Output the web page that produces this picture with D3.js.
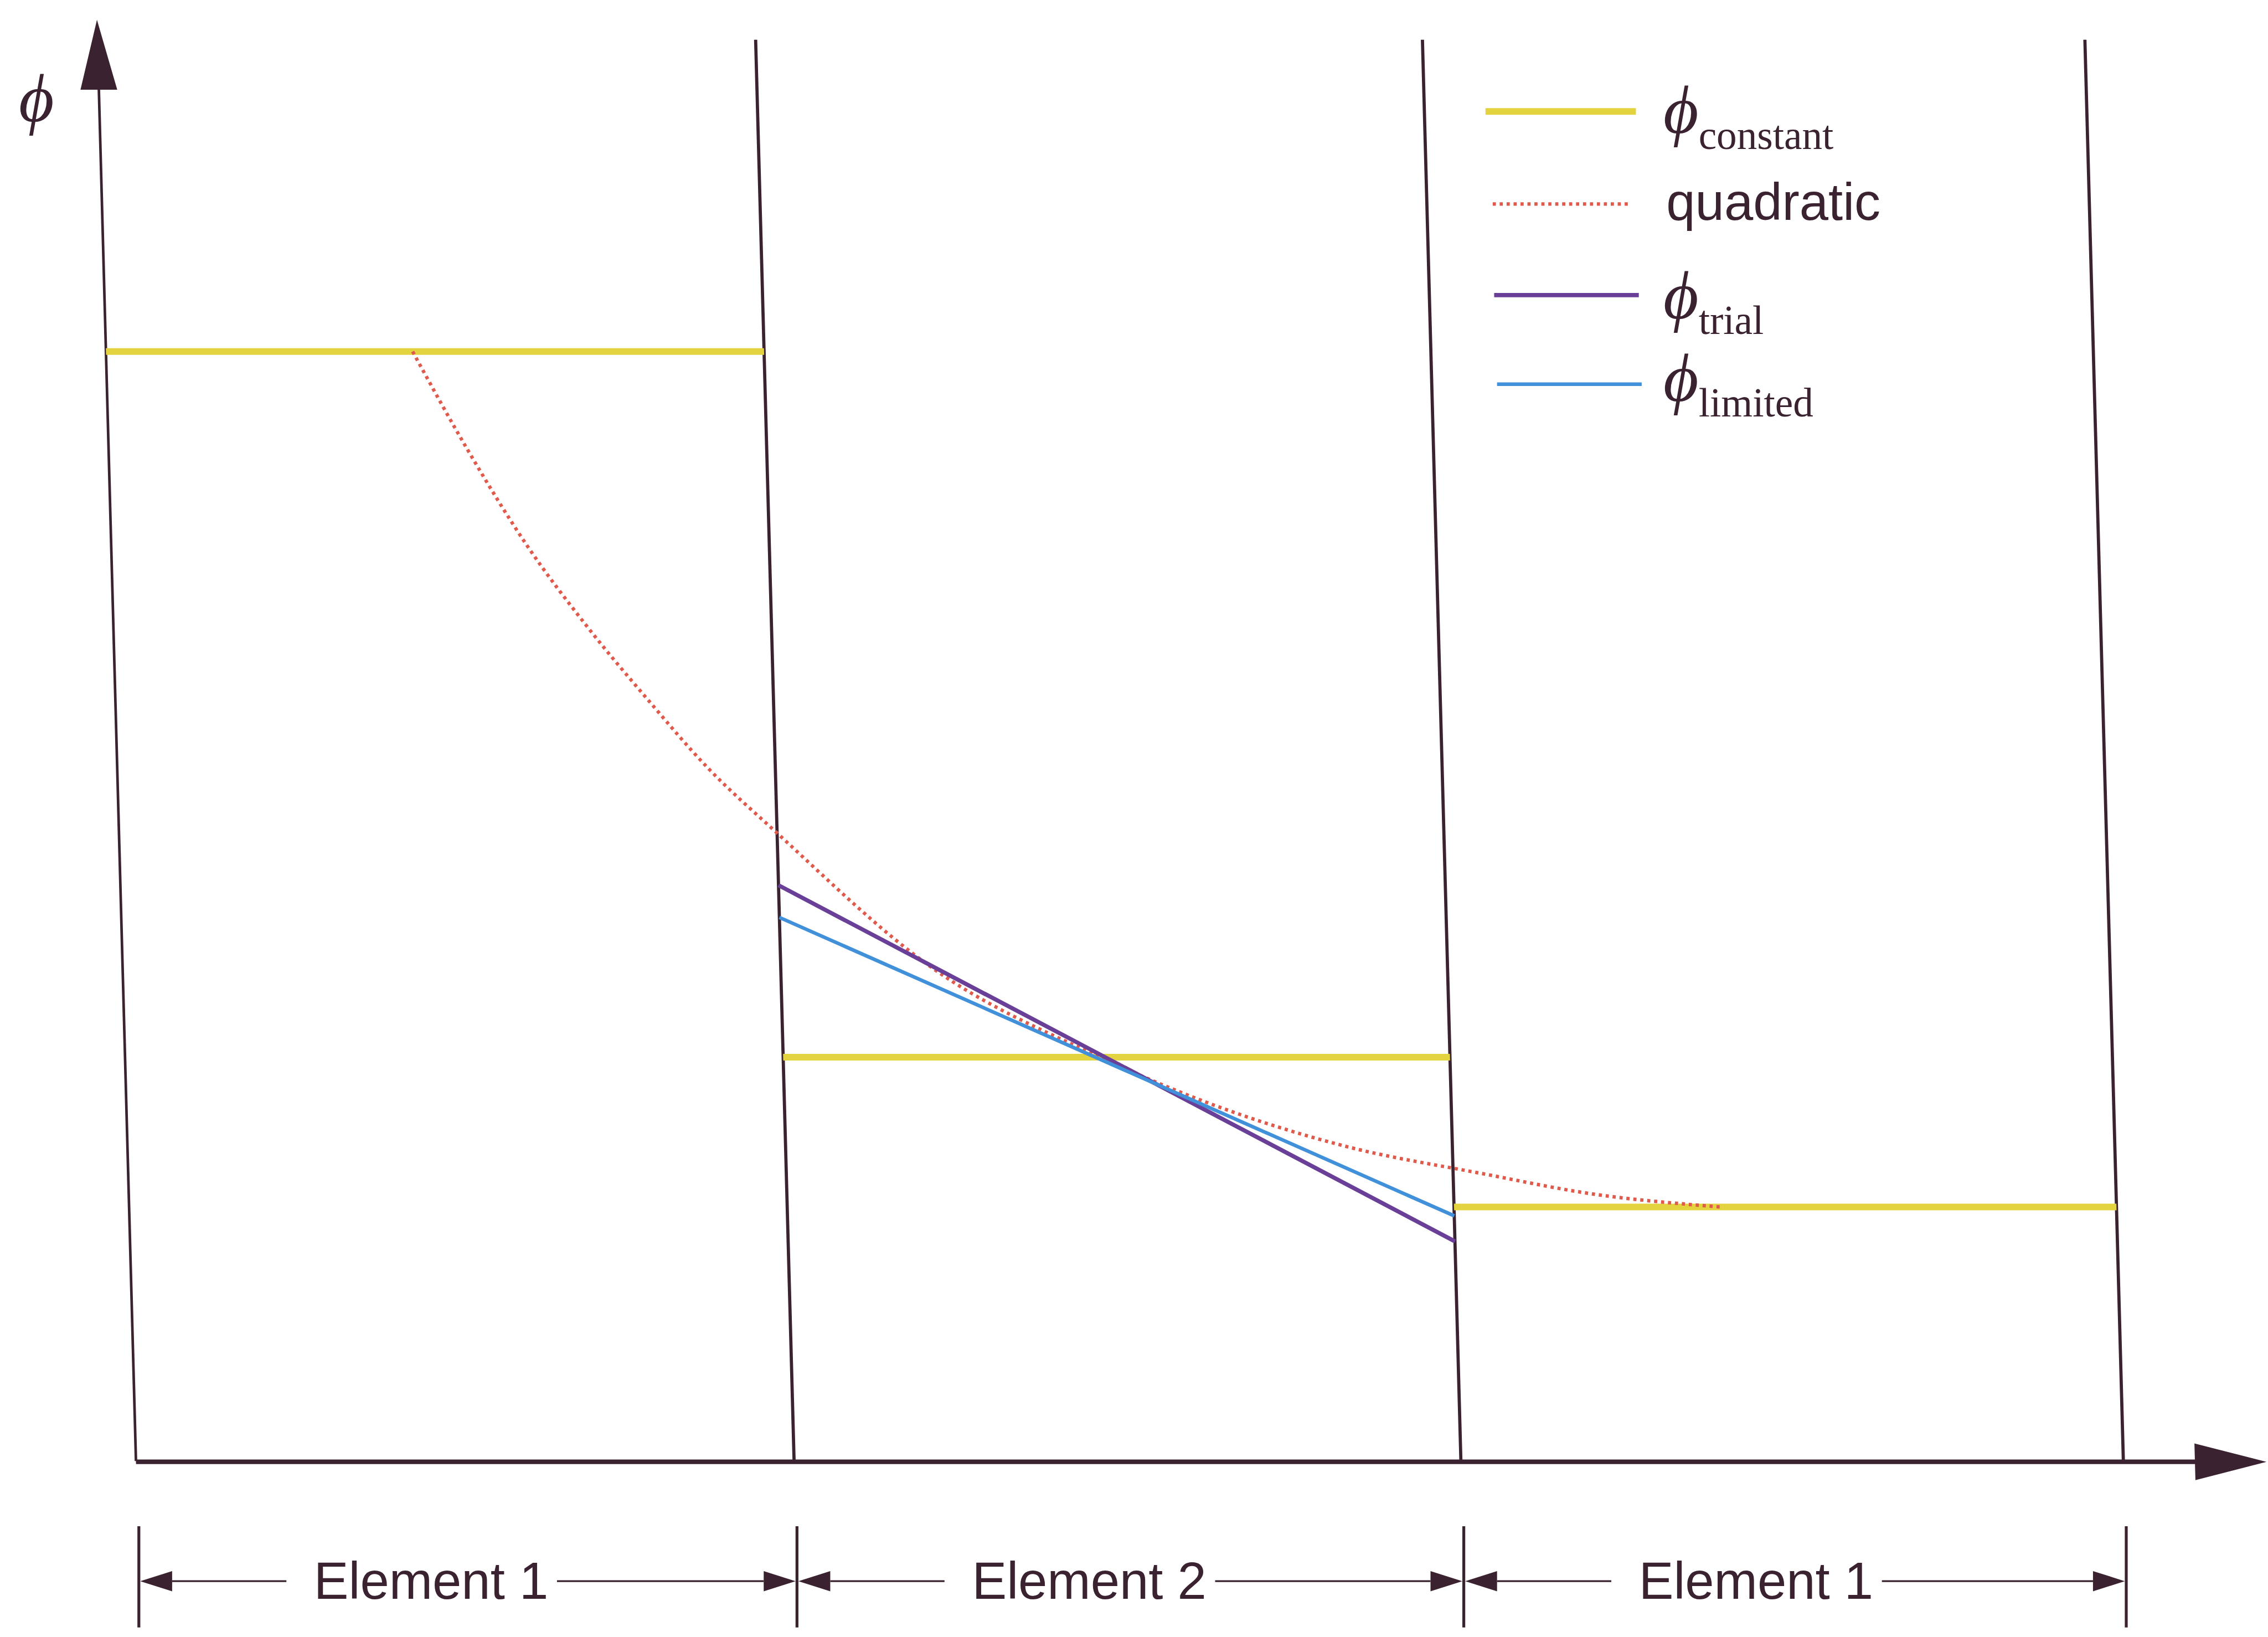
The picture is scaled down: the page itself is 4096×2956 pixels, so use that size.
<!DOCTYPE html>
<html lang="en">
<head>
	<meta charset="UTF-8">
	<title>Slope limiter sketch</title>
	<script src="https://cdn.jsdelivr.net/npm/d3@7"></script>
	<style>
		body { margin: 0; background: #fff; }
		svg { display: block; }
	</style>
</head>
<body>
<svg id="chart"></svg>
<script>

	// ---- data ----
	const elementNames = ["Element 1", "Element 2", "Element 1"];
	const boundaries = [0, 1, 2, 3];
	const constantPhi = [1.0, 0.364, 0.229];       // one value per element
	const trialX = [1, 2];
	const trialPhi = [0.519, 0.198];
	const limitedX = [1, 2];
	const limitedPhi = [0.490, 0.221];
	const quadX = [0.466, 0.545, 0.632, 0.720, 0.808, 0.897, 1.0, 1.226, 1.468, 1.639, 1.838, 2.045, 2.207, 2.404];
	const quadPhi = [1.0, 0.912, 0.825, 0.752, 0.687, 0.625, 0.566, 0.445, 0.366, 0.322, 0.284, 0.259, 0.241, 0.229];
	const legendNames = ["constant", "quadratic", "trial", "limited"];

	// drawing is laid out on a 1568 x 1132 grid, then scaled to the window
	const W = 4096, H = 2956;
	const k = W / 1568;

	const ink = "#3a2230";
	const colors = { constant: "#e3d33f", quadratic: "#e05a4c", trial: "#6a3f97", limited: "#4190da" };

	const svg = d3.select("#chart").attr("width", W).attr("height", H);
	svg.append("rect").attr("width", W).attr("height", H).attr("fill", "#fff");
	const root = svg.append("g").attr("transform", `scale(${k})`);

	const x = d3.scaleLinear().domain(boundaries).range([94, 549, 1010, 1468]);
	const y = d3.scaleLinear().domain([0, 1]).range([1010, 243]);

	// the scanned figure leans a little: shear around the x axis
	const plot = root.append("g")
		.attr("transform", `translate(0,${y(0)}) skewX(1.55) translate(0,${-y(0)})`);

	// y axis with arrow
	plot.append("line")
		.attr("x1", x(0)).attr("y1", y(0)).attr("x2", x(0)).attr("y2", y(1.236))
		.attr("stroke", ink).attr("stroke-width", 1.8);
	plot.append("path")
		.attr("d", `M${x(0)},${y(1.299)} L${x(0) - 12.7},${y(1.236)} L${x(0) + 12.7},${y(1.236)} Z`)
		.attr("fill", ink);

	// element boundaries
	plot.selectAll(".bound")
		.data(boundaries.slice(1))
		.join("line")
		.attr("class", "bound")
		.attr("x1", d => x(d)).attr("x2", d => x(d))
		.attr("y1", y(0)).attr("y2", y(1.281))
		.attr("stroke", ink).attr("stroke-width", 2.2);

	// x axis with arrow
	plot.append("line")
		.attr("x1", x(0)).attr("y1", y(0) + 0.5).attr("x2", x(3.11)).attr("y2", y(0) + 0.5)
		.attr("stroke", ink).attr("stroke-width", 3.2);
	plot.append("path")
		.attr("d", `M${x(3.216)},${y(0) + 0.5} L${x(3.108)},${y(0) + 0.5 - 12.7} L${x(3.108)},${y(0) + 0.5 + 12.7} Z`)
		.attr("fill", ink);

	// constant values per element
	plot.selectAll(".const")
		.data(constantPhi)
		.join("line")
		.attr("class", "const")
		.attr("x1", (d, i) => x(boundaries[i])).attr("x2", (d, i) => x(boundaries[i + 1]))
		.attr("y1", d => y(d)).attr("y2", d => y(d))
		.attr("stroke", colors.constant).attr("stroke-width", 4.6);

	const line = d3.line().x(d => x(d[0])).y(d => y(d[1]));

	// quadratic reconstruction
	plot.append("path")
		.datum(d3.zip(quadX, quadPhi))
		.attr("d", line.curve(d3.curveMonotoneX))
		.attr("fill", "none")
		.attr("stroke", colors.quadratic).attr("stroke-width", 2.4)
		.attr("stroke-dasharray", "2.2,2.6");

	line.curve(d3.curveLinear);
	plot.append("path")
		.datum(d3.zip(trialX, trialPhi))
		.attr("d", line)
		.attr("fill", "none")
		.attr("stroke", colors.trial).attr("stroke-width", 2.9);

	plot.append("path")
		.datum(d3.zip(limitedX, limitedPhi))
		.attr("d", line)
		.attr("fill", "none")
		.attr("stroke", colors.limited).attr("stroke-width", 2.5);

	// axis label
	root.append("text")
		.attr("x", 13).attr("y", 84)
		.attr("font-family", "Liberation Serif, DejaVu Serif, serif")
		.attr("font-style", "italic")
		.attr("font-size", 47)
		.attr("fill", ink)
		.text("ϕ");

	// legend
	const legendRows = [
		{ y: 77, x1: 1027, x2: 1131, ty: 92, dash: null, w: 4.6 },
		{ y: 141, x1: 1032, x2: 1128, ty: 152, dash: "2.2,2.6", w: 2.4 },
		{ y: 204, x1: 1033, x2: 1133, ty: 220, dash: null, w: 2.9 },
		{ y: 265.6, x1: 1035, x2: 1135, ty: 277, dash: null, w: 2.5 }
	];
	const legend = root.append("g");
	legendNames.forEach((name, i) => {
		const r = legendRows[i];
		legend.append("line")
			.attr("x1", r.x1).attr("x2", r.x2).attr("y1", r.y).attr("y2", r.y)
			.attr("stroke", colors[name]).attr("stroke-width", r.w)
			.attr("stroke-dasharray", r.dash);
		if (name === "quadratic") {
			legend.append("text")
				.attr("x", 1152).attr("y", r.ty)
				.attr("font-family", "Liberation Sans, Arial, sans-serif")
				.attr("font-size", 36)
				.attr("fill", ink)
				.text(name);
		} else {
			const t = legend.append("text")
				.attr("x", 1150).attr("y", r.ty)
				.attr("font-family", "Liberation Serif, DejaVu Serif, serif")
				.attr("fill", ink);
			t.append("tspan").attr("font-style", "italic").attr("font-size", 47).text("ϕ");
			t.append("tspan").attr("font-size", 28).attr("dy", 11).text(name);
		}
	});

	// element dimension lines under the axis
	const dimY = 1093;
	const shift = 2;
	const dim = root.append("g").attr("stroke", ink).attr("fill", ink);

	dim.selectAll(".tick")
		.data(boundaries)
		.join("line")
		.attr("class", "tick")
		.attr("x1", d => x(d) + shift).attr("x2", d => x(d) + shift)
		.attr("y1", 1055).attr("y2", 1125)
		.attr("stroke-width", 2);

	elementNames.forEach((name, i) => {
		const x0 = x(boundaries[i]) + shift;
		const x1 = x(boundaries[i + 1]) + shift;
		const label = dim.append("text")
			.attr("x", x0 + 121).attr("y", dimY + 12)
			.attr("stroke", "none")
			.attr("font-family", "Liberation Sans, Arial, sans-serif")
			.attr("font-size", 36)
			.text(name);
		const tw = label.node().getComputedTextLength();
		const a = 23, h = 7;
		dim.append("path")
			.attr("d", `M${x0 + 1},${dimY} L${x0 + a},${dimY - h} L${x0 + a},${dimY + h} Z`)
			.attr("stroke", "none");
		dim.append("path")
			.attr("d", `M${x1 - 1},${dimY} L${x1 - a},${dimY - h} L${x1 - a},${dimY + h} Z`)
			.attr("stroke", "none");
		dim.append("line")
			.attr("x1", x0 + a).attr("x2", x0 + 121 - 19)
			.attr("y1", dimY).attr("y2", dimY)
			.attr("stroke-width", 1.2);
		dim.append("line")
			.attr("x1", x0 + 121 + tw + 6).attr("x2", x1 - a)
			.attr("y1", dimY).attr("y2", dimY)
			.attr("stroke-width", 1.2);
	});

</script>
</body>
</html>
